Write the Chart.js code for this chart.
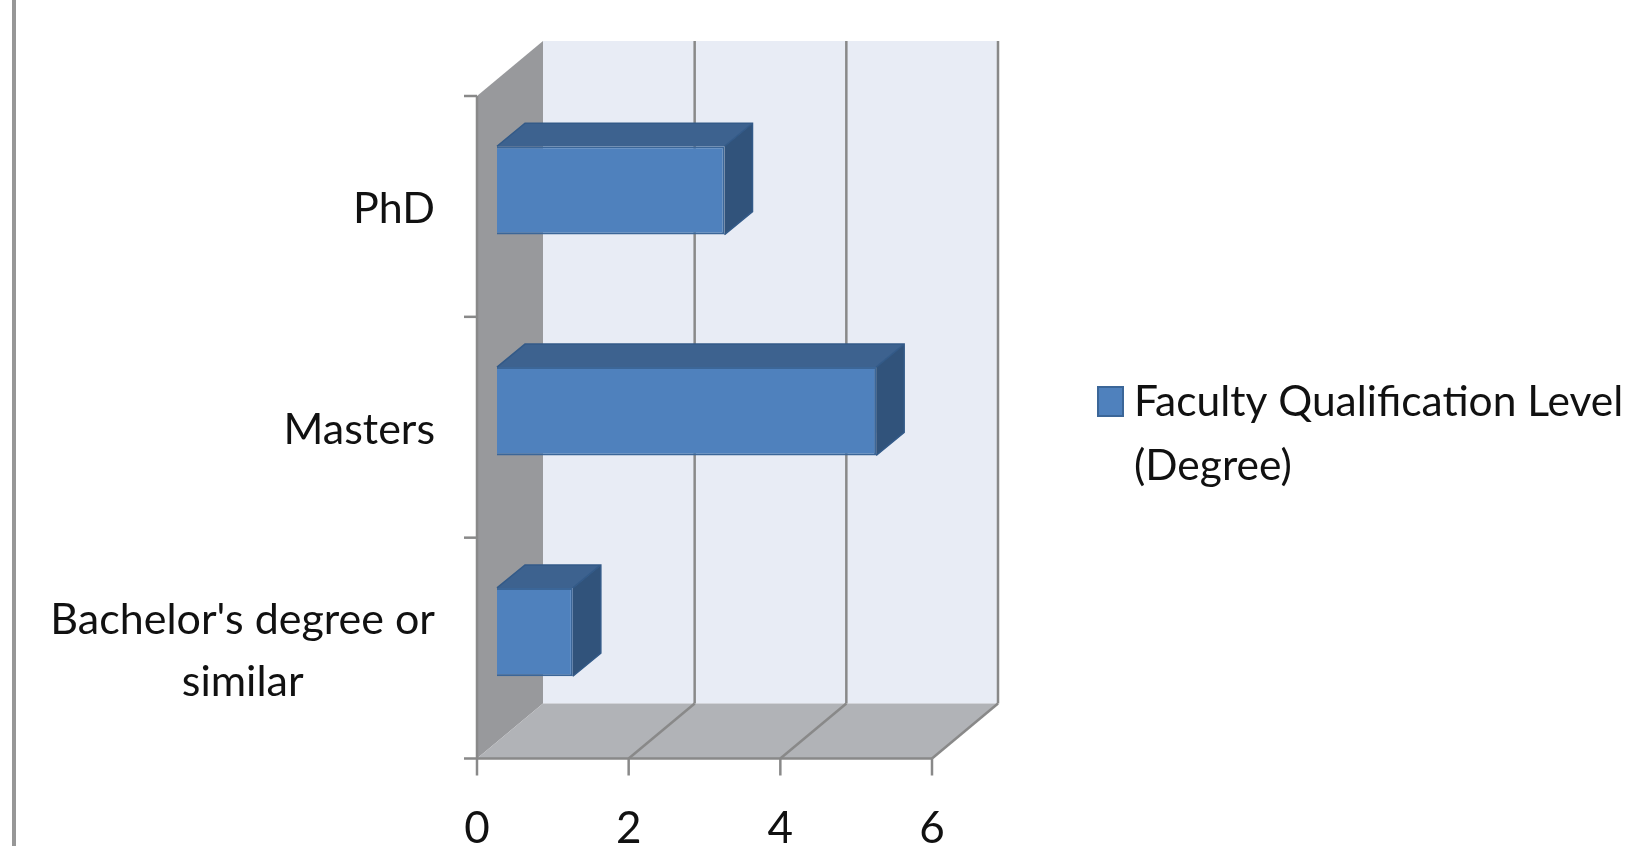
<!DOCTYPE html>
<html>
<head>
<meta charset="utf-8">
<script src="https://cdn.jsdelivr.net/npm/chart.js@4.4.1/dist/chart.umd.min.js"></script>
<style>
  html, body { margin: 0; padding: 0; background: #fff; }
  #wrap { width: 1627px; height: 846px; }
</style>
</head>
<body>
<div id="wrap"><canvas id="myChart" width="1627" height="846"></canvas></div>
<script>
const categories = ['PhD', 'Masters', ["Bachelor's degree or", 'similar']];
const qualificationCounts = [3, 5, 1];
const seriesLabel = ['Faculty Qualification Level', '(Degree)'];
const xTicks = [0, 2, 4, 6];

// 3d look
const depth = { dx: 66, dy: -55 };
const barShift = { dx: 20, dy: -16 };
const barDepth = { dx: 28, dy: -23 };
const textFont = '43px Lato';
const legendFont = '42.5px Lato';
const gridColor = '#898989';

function poly(ctx, pts, fill) {
  ctx.beginPath();
  ctx.moveTo(pts[0][0], pts[0][1]);
  pts.slice(1).forEach(p => ctx.lineTo(p[0], p[1]));
  ctx.closePath();
  ctx.fillStyle = fill;
  ctx.fill();
}

function line(ctx, x1, y1, x2, y2) {
  ctx.beginPath();
  ctx.moveTo(x1, y1);
  ctx.lineTo(x2, y2);
  ctx.stroke();
}

const walls3d = {
  id: 'walls3d',
  beforeDraw(chart) {
    const { ctx, scales: { x, y } } = chart;
    const x0 = x.getPixelForValue(xTicks[0]);
    const xe = x.getPixelForValue(xTicks[xTicks.length - 1]);
    const top = y.top, bottom = y.bottom;
    const { dx, dy } = depth;
    ctx.save();
    ctx.fillStyle = '#fff';
    ctx.fillRect(0, 0, chart.width, chart.height);
    // frame line on the left
    ctx.fillStyle = '#979797';
    ctx.fillRect(12, 0, 4, chart.height);

    // back wall, side wall, floor
    poly(ctx, [[x0 + dx, top + dy], [xe + dx, top + dy], [xe + dx, bottom + dy], [x0 + dx, bottom + dy]], '#e8ecf5');
    poly(ctx, [[x0, top], [x0 + dx, top + dy], [x0 + dx, bottom + dy], [x0, bottom]], '#98999c');
    poly(ctx, [[x0, bottom], [xe, bottom], [xe + dx, bottom + dy], [x0 + dx, bottom + dy]], '#b1b3b7');

    ctx.strokeStyle = gridColor;
    ctx.lineWidth = 2.5;
    xTicks.forEach(v => {
      const px = x.getPixelForValue(v);
      if (v !== xTicks[0]) {
        line(ctx, px + dx, top + dy, px + dx, bottom + dy);
        line(ctx, px, bottom, px + dx, bottom + dy);
      }
      line(ctx, px, bottom, px, bottom + 17);
    });
    // axis lines
    line(ctx, x0, top, x0, bottom);
    line(ctx, x0, bottom, xe, bottom);
    // category ticks on the boundaries
    for (let i = 0; i <= categories.length; i++) {
      const py = top + (bottom - top) * i / categories.length;
      line(ctx, x0 - 13, py, x0, py);
    }
    ctx.restore();
  },
  beforeDatasetsDraw(chart) {
    chart.ctx.save();
    chart.ctx.translate(barShift.dx, barShift.dy);
  },
  afterDatasetsDraw(chart) {
    const ctx = chart.ctx;
    const { dx, dy } = barDepth;
    chart.getDatasetMeta(0).data.forEach(bar => {
      const { x, y, base, height } = bar.getProps(['x', 'y', 'base', 'height'], true);
      const t = y - height / 2, b = y + height / 2;
      poly(ctx, [[base, t], [x, t], [x + dx, t + dy], [base + dx, t + dy]], '#3d628f');
      poly(ctx, [[x, t], [x + dx, t + dy], [x + dx, b + dy], [x, b]], '#31537b');
      ctx.strokeStyle = '#335a88';
      ctx.lineWidth = 1.5;
      ctx.beginPath();
      ctx.moveTo(base, t); ctx.lineTo(base + dx, t + dy); ctx.lineTo(x + dx, t + dy);
      ctx.lineTo(x + dx, b + dy); ctx.lineTo(x, b);
      ctx.moveTo(x, t); ctx.lineTo(x + dx, t + dy);
      ctx.stroke();
    });
    ctx.restore();

    // category labels, right aligned, extra lines centred under the first
    const y = chart.scales.y;
    const x0 = chart.scales.x.getPixelForValue(xTicks[0]);
    ctx.save();
    ctx.font = textFont;
    ctx.fillStyle = '#111';
    ctx.textBaseline = 'middle';
    categories.forEach((lab, i) => {
      const lines = Array.isArray(lab) ? lab : [lab];
      const cy = y.getPixelForTick(i) + 3;
      const lh = 62;
      const right = x0 - 42;
      const w = ctx.measureText(lines[0]).width;
      lines.forEach((ln, j) => {
        const ly = cy + (j - (lines.length - 1) / 2) * lh;
        if (j === 0) {
          ctx.textAlign = 'right';
          ctx.fillText(ln, right, ly);
        } else {
          ctx.textAlign = 'center';
          ctx.fillText(ln, right - w / 2, ly);
        }
      });
    });

    // legend
    const ds = chart.data.datasets[0];
    ctx.fillStyle = ds.backgroundColor;
    ctx.fillRect(1097, 386, 27, 31);
    ctx.strokeStyle = ds.borderColor;
    ctx.lineWidth = 2;
    ctx.strokeRect(1098, 387, 25, 29);
    ctx.font = legendFont;
    ctx.fillStyle = '#111';
    ctx.textAlign = 'left';
    seriesLabel.forEach((ln, j) => ctx.fillText(ln, 1134, 402 + j * 64));
    ctx.restore();
  }
};

new Chart(document.getElementById('myChart'), {
  type: 'bar',
  data: {
    labels: categories,
    datasets: [{
      label: seriesLabel.join(' '),
      data: qualificationCounts,
      backgroundColor: '#4f81bd',
      borderColor: '#3b6698',
      borderWidth: 2,
      barPercentage: 0.4,
      categoryPercentage: 1
    }]
  },
  options: {
    indexAxis: 'y',
    responsive: false,
    animation: false,
    layout: { padding: { left: 477, right: 695, top: 96, bottom: 0 } },
    plugins: { legend: { display: false }, tooltip: { enabled: false } },
    scales: {
      x: {
        min: 0,
        max: 6,
        afterFit: s => { s.height = 87.5; },
        afterBuildTicks: s => { s.ticks = xTicks.map(v => ({ value: v })); },
        grid: { display: false, drawTicks: false },
        border: { display: false },
        ticks: { font: { family: 'Lato', size: 44 }, color: '#111', padding: 44, maxRotation: 0 }
      },
      y: { display: false }
    }
  },
  plugins: [walls3d]
});
</script>
</body>
</html>
